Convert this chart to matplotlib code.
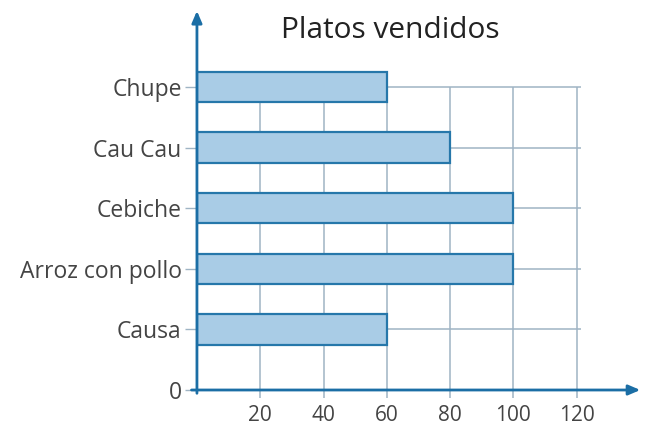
import matplotlib
matplotlib.use('Agg')
import matplotlib.pyplot as plt

# data
platos = ['Causa', 'Arroz con pollo', 'Cebiche', 'Cau Cau', 'Chupe']
vendidos = [60, 100, 100, 80, 60]
x_ticks = [20, 40, 60, 80, 100, 120]

axis_color = '#1b6ea5'
grid_color = '#9fb4c4'
bar_fill = '#a9cce6'
bar_edge = '#2677aa'
text_color = '#444444'

plt.rcParams['font.family'] = ['Open Sans', 'DejaVu Sans']

fig = plt.figure(figsize=(6.5, 4.29), dpi=100)
ax = fig.add_axes([0.303, 0.0909, 0.6815, 0.876])
ax.set_xlim(0, 140)
ax.set_ylim(0, 6.2)

ypos = list(range(1, len(platos) + 1))
top = ypos[-1]

# grid
ax.vlines(x_ticks, -0.13, top, color=grid_color, lw=1.1, zorder=1, clip_on=False)
ax.hlines(ypos, 0, 121.5, color=grid_color, lw=1.1, zorder=1)

ax.barh(ypos, vendidos, height=0.5, color=bar_fill, edgecolor=bar_edge,
        linewidth=1.6, zorder=3)

# axes with arrows
ax.annotate('', xy=(141, 0), xytext=(-2.6, 0),
            arrowprops=dict(arrowstyle='-|>,head_length=0.7,head_width=0.3',
                            color=axis_color, lw=2),
            annotation_clip=False, zorder=4)
ax.annotate('', xy=(0, 6.3), xytext=(0, -0.1),
            arrowprops=dict(arrowstyle='-|>,head_length=0.7,head_width=0.3',
                            color=axis_color, lw=2),
            annotation_clip=False, zorder=4)

for s in ax.spines.values():
    s.set_visible(False)

ax.set_yticks([0] + ypos)
ax.set_yticklabels(['0'] + platos)
ax.set_xticks(x_ticks)
ax.set_xticklabels([str(v) for v in x_ticks])
ax.tick_params(axis='y', length=9, width=1, color=grid_color, pad=2,
               labelsize=16.5, labelcolor=text_color)
ax.tick_params(axis='x', length=0, pad=11, labelsize=15, labelcolor=text_color)

fig.text(0.6, 0.93, 'Platos vendidos', ha='center', va='center',
         fontsize=21.5, color='#222222')

fig.savefig('out.png', dpi=100)
